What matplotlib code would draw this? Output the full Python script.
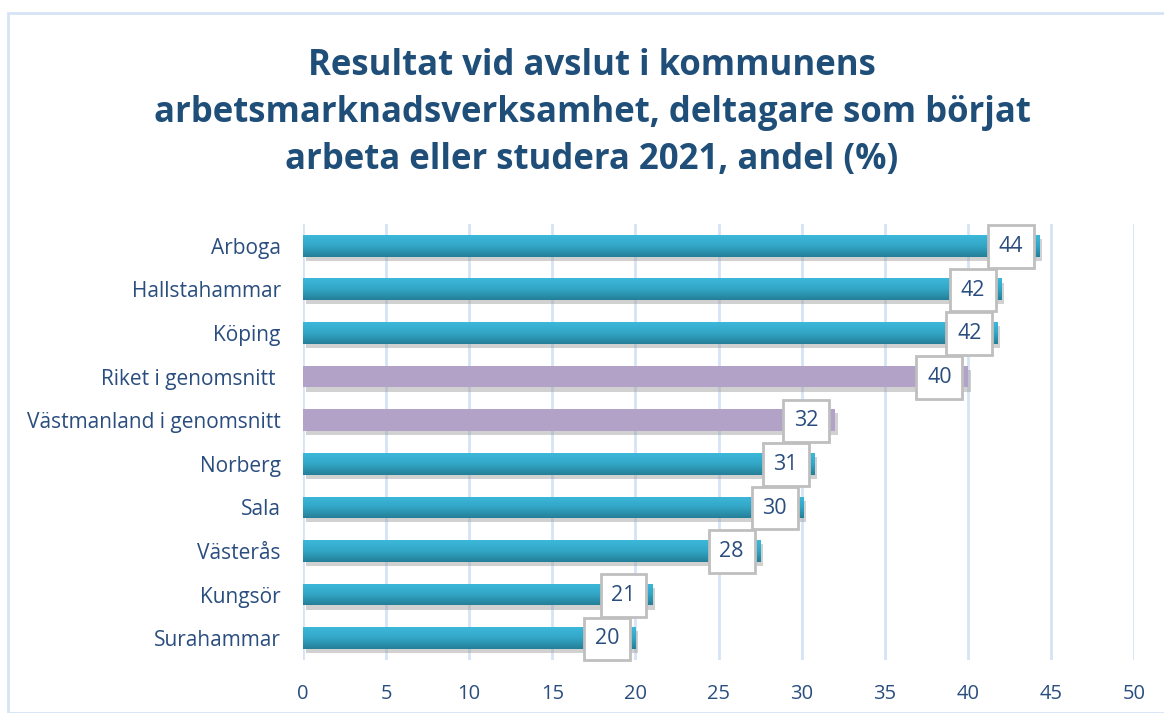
import matplotlib
matplotlib.use("Agg")
import matplotlib.pyplot as plt
import numpy as np
from matplotlib.patches import Rectangle
from matplotlib.colors import LinearSegmentedColormap
import matplotlib.patheffects as pe

categories = ["Arboga", "Hallstahammar", "Köping", "Riket i genomsnitt ",
              "Västmanland i genomsnitt", "Norberg", "Sala", "Västerås",
              "Kungsör", "Surahammar"]
values = [44.3, 42.0, 41.8, 40.0, 32.0, 30.75, 30.1, 27.5, 21.0, 20.0]
labels = ["44", "42", "42", "40", "32", "31", "30", "28", "21", "20"]
is_avg = [False, False, False, True, True, False, False, False, False, False]
xticks = [0, 5, 10, 15, 20, 25, 30, 35, 40, 45, 50]
title = ("Resultat vid avslut i kommunens\n"
         "arbetsmarknadsverksamhet, deltagare som börjat\n"
         "arbeta eller studera 2021, andel (%)")

W, H = 1164, 713
fig = plt.figure(figsize=(W / 100, H / 100), dpi=100)
fig.patch.set_facecolor("white")

# outer border
fig.add_artist(Rectangle((8 / W, 0), 1.2, (H - 13) / H, transform=fig.transFigure,
                         fill=False, edgecolor="#d5e3f4", linewidth=2))

ax = fig.add_axes([303 / W, (H - 660) / H, (1134 - 303) / W, (660 - 224) / H])
n = len(categories)

text_col = "#2a4d7f"
title_col = "#1f4e79"

ypos = np.arange(n)
bh = 0.5
bars = ax.barh(ypos, values, height=bh, color="none", edgecolor="none", zorder=3)

grad = np.linspace(0, 1, 64).reshape(-1, 1)
teal = LinearSegmentedColormap.from_list("teal", ["#3cb8da", "#33a6c6", "#247f98"])
for b, avg in zip(bars, is_avg):
    x0, y0 = b.get_x(), b.get_y()
    w, h = b.get_width(), b.get_height()
    shadow = Rectangle((x0, y0), w, h, facecolor="#000000", alpha=0.0, zorder=2)
    ax.add_patch(shadow)
    shadow.set_path_effects([pe.SimplePatchShadow(offset=(2, -3), shadow_rgbFace="#9a9a9a", alpha=0.45)])
    if avg:
        ax.add_patch(Rectangle((x0, y0), w, h, facecolor="#b3a2c8", edgecolor="none", zorder=3))
    else:
        im = ax.imshow(grad, cmap=teal, aspect="auto", extent=(x0, x0 + w, y0 + h, y0),
                       zorder=3, interpolation="bilinear")
        clip = Rectangle((x0, y0), w, h, transform=ax.transData, facecolor="none", edgecolor="none")
        ax.add_patch(clip)
        im.set_clip_path(clip)

ax.set_xlim(0, 50)
ax.set_ylim(n - 0.5, -0.5)

for yv, v, lab in zip(ypos, values, labels):
    ax.annotate(lab, xy=(v, yv), xytext=(-20.5, -0.5), textcoords="offset points",
                ha="center", va="center", fontsize=15.5, color=text_col,
                family="Open Sans", zorder=6,
                bbox=dict(boxstyle="square,pad=0.5", facecolor="white",
                          edgecolor="#bfbfbf", linewidth=2))

ax.set_xticks(xticks)
ax.set_xticklabels([str(t) for t in xticks])
ax.set_yticks(ypos)
ax.set_yticklabels(categories)
ax.tick_params(axis="both", length=0, labelsize=14.5, labelcolor=text_col)
ax.tick_params(axis="y", labelsize=15)
ax.tick_params(axis="x", pad=17)
ax.tick_params(axis="y", pad=16)
for lab in ax.get_xticklabels() + ax.get_yticklabels():
    lab.set_family("Open Sans")

ax.grid(axis="x", color="#d5e3f4", linewidth=2, zorder=0)
ax.set_axisbelow(True)
for s in ax.spines.values():
    s.set_visible(False)

fig.text(592 / W, 1 - 113 / H, title, ha="center", va="center", fontsize=25,
         fontweight="bold", color=title_col, family="Open Sans", linespacing=1.42)

fig.savefig("out.png", dpi=100)
